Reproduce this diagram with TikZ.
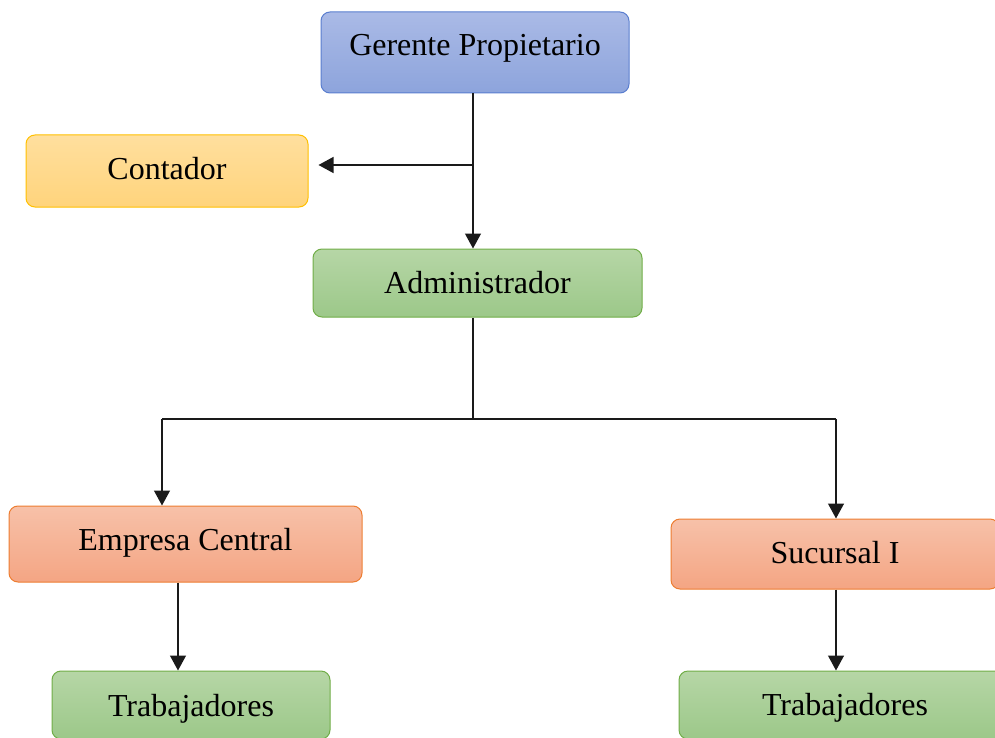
\documentclass[tikz,border=0pt]{standalone}
\usepackage{fontspec}
\setmainfont{Liberation Serif}
\usetikzlibrary{arrows.meta,calc}
\definecolor{bluetop}{HTML}{AABAE6}
\definecolor{bluebot}{HTML}{8DA4DC}
\definecolor{blueline}{HTML}{5A7ECF}
\definecolor{yeltop}{HTML}{FFDF9E}
\definecolor{yelbot}{HTML}{FFD47C}
\definecolor{yelline}{HTML}{FFC000}
\definecolor{grntop}{HTML}{B6D6A6}
\definecolor{grnbot}{HTML}{9CC889}
\definecolor{grnline}{HTML}{70AD47}
\definecolor{orgtop}{HTML}{F7C1A9}
\definecolor{orgbot}{HTML}{F4A583}
\definecolor{orgline}{HTML}{ED7D31}
\definecolor{conn}{HTML}{1A1A1A}
\newcommand{\shiftlbl}[2]{\raisebox{#1}[\height][\depth]{#2}}
\tikzset{
  orgbox/.style={rectangle, rounded corners=9pt, line width=1pt, inner sep=0pt,
    font=\fontsize{32}{36}\selectfont, text=black},
  bluebox/.style={orgbox, draw=blueline, top color=bluetop, bottom color=bluebot},
  yelbox/.style={orgbox, draw=yelline, top color=yeltop, bottom color=yelbot},
  grnbox/.style={orgbox, draw=grnline, top color=grntop, bottom color=grnbot},
  orgbbox/.style={orgbox, draw=orgline, top color=orgtop, bottom color=orgbot},
  conline/.style={draw=conn, line width=1.3pt},
  arr/.style={conline, -{Triangle[length=15pt,width=16pt]}}
}
\begin{document}
\begin{tikzpicture}[x=1pt,y=-1pt]
\useasboundingbox (0,0) rectangle (995,738);
\clip (0,0) rectangle (995,738);
\node[bluebox, minimum width=308pt, minimum height=81pt] (ger) at (475,52.5) {\shiftlbl{4pt}{Gerente Propietario}};
\node[yelbox, minimum width=282pt, minimum height=72pt] (con) at (167,171) {\shiftlbl{2pt}{Contador}};
\node[grnbox, minimum width=329pt, minimum height=68pt] (adm) at (477.5,283) {Administrador};
\node[orgbbox, minimum width=353pt, minimum height=76pt] (emp) at (185.5,544) {\shiftlbl{1pt}{Empresa Central}};
\node[orgbbox, minimum width=328pt, minimum height=70pt] (suc) at (835,554) {\shiftlbl{1pt}{Sucursal I}};
\node[grnbox, minimum width=278pt, minimum height=68pt] (tr1) at (191,705) {\shiftlbl{-4pt}{Trabajadores}};
\node[grnbox, minimum width=332pt, minimum height=68pt] (tr2) at (845,705) {\shiftlbl{-3pt}{Trabajadores}};
% connectors
\coordinate (gtop) at (473,93);
\coordinate (j1) at (473,165);
\coordinate (j2) at (473,419);
\coordinate (jl) at (162,419);
\coordinate (jr) at (836,419);
\draw[arr] (gtop) -- (gtop |- adm.north);
\draw[arr, shorten >=10pt] (j1) -- (j1 -| con.east);
\draw[conline] (j2 |- adm.south) -- (j2);
\draw[conline] (jl) -- (jr);
\draw[arr] (jl) -- (jl |- emp.north);
\draw[arr] (jr) -- (jr |- suc.north);
\draw[arr] (178,0 |- emp.south) -- (178,0 |- tr1.north);
\draw[arr] (836,0 |- suc.south) -- (836,0 |- tr2.north);
\end{tikzpicture}
\end{document}
